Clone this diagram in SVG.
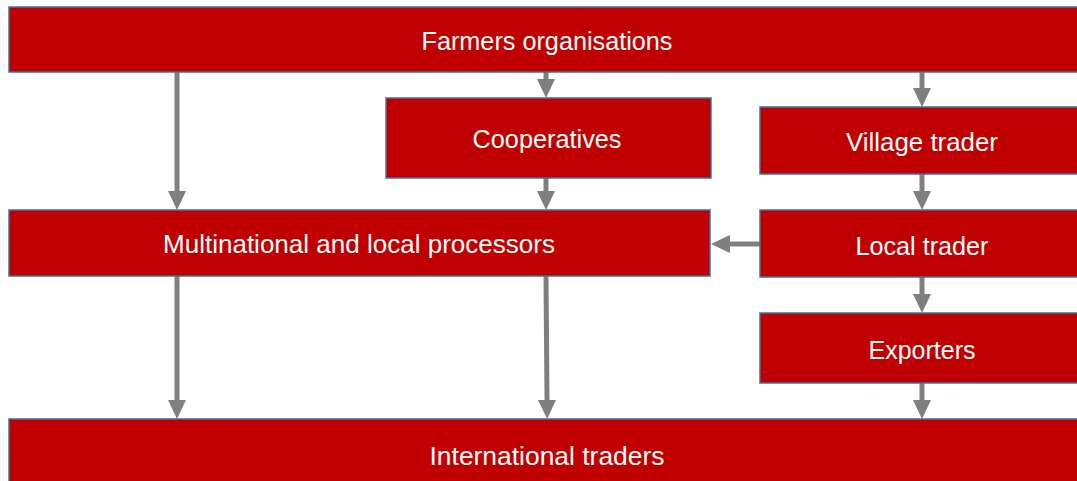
<svg xmlns="http://www.w3.org/2000/svg" width="1077" height="481" viewBox="0 0 1077 481">
<style>
.box{fill:#C00000;stroke:#41719C;stroke-width:1.5}
.lbl{fill:#FFFFFF;font-family:"Liberation Sans",Arial,sans-serif;font-size:25px;text-anchor:middle}
.arr{stroke:#7F7F7F;stroke-width:5;fill:none;marker-end:url(#ah)}
</style>
<defs>
<marker id="ah" markerUnits="userSpaceOnUse" markerWidth="20" markerHeight="20" refX="0" refY="9" orient="auto">
<path d="M0,0 L19,9 L0,18 Z" fill="#7F7F7F"/>
</marker>
</defs>
<rect width="1077" height="481" fill="#FFFFFF"/>
<g id="connectors">
<line class="arr" x1="177" y1="72" x2="177" y2="191"/>
<line class="arr" x1="546" y1="72" x2="546" y2="79"/>
<line class="arr" x1="922" y1="72" x2="922" y2="88"/>
<line class="arr" x1="546" y1="178" x2="546" y2="191"/>
<line class="arr" x1="922" y1="174" x2="922" y2="191"/>
<line class="arr" x1="760" y1="244" x2="730" y2="244"/>
<line class="arr" x1="177" y1="276" x2="177" y2="400"/>
<line class="arr" x1="546" y1="276" x2="547" y2="400"/>
<line class="arr" x1="922" y1="277" x2="922" y2="294"/>
<line class="arr" x1="922" y1="383" x2="922" y2="400"/>
</g>
<g id="farmers">
<rect class="box" x="9" y="7" width="1080" height="65"/>
<text class="lbl" x="547" y="50" textLength="251" lengthAdjust="spacingAndGlyphs">Farmers organisations</text>
</g>
<g id="cooperatives">
<rect class="box" x="386" y="98" width="325" height="80"/>
<text class="lbl" x="547" y="148" textLength="149" lengthAdjust="spacingAndGlyphs">Cooperatives</text>
</g>
<g id="village">
<rect class="box" x="760" y="107" width="330" height="67"/>
<text class="lbl" x="922" y="151" textLength="152" lengthAdjust="spacingAndGlyphs">Village trader</text>
</g>
<g id="processors">
<rect class="box" x="9" y="210" width="701" height="66"/>
<text class="lbl" x="359" y="253" textLength="392" lengthAdjust="spacingAndGlyphs">Multinational and local processors</text>
</g>
<g id="localtrader">
<rect class="box" x="760" y="210" width="330" height="67"/>
<text class="lbl" x="922" y="255" textLength="133" lengthAdjust="spacingAndGlyphs">Local trader</text>
</g>
<g id="exporters">
<rect class="box" x="760" y="313" width="330" height="70"/>
<text class="lbl" x="922" y="359" textLength="107" lengthAdjust="spacingAndGlyphs">Exporters</text>
</g>
<g id="international">
<rect class="box" x="9" y="419" width="1080" height="70"/>
<text class="lbl" x="547" y="465" textLength="235" lengthAdjust="spacingAndGlyphs">International traders</text>
</g>
</svg>
